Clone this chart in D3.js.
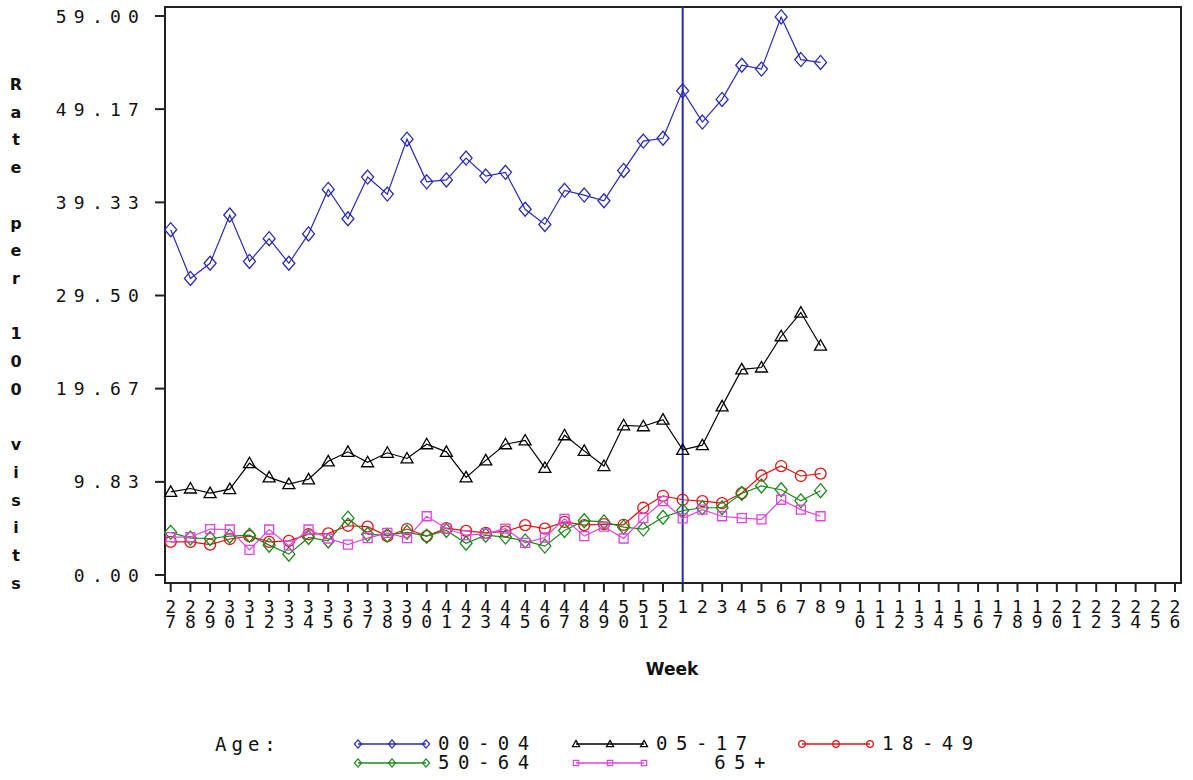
<!DOCTYPE html>
<html><head><meta charset="utf-8">
<script src="https://cdn.jsdelivr.net/npm/d3@7"></script>
<style>body{margin:0;background:#fff}svg{display:block}</style>
</head><body>
<svg id="c" width="1193" height="780"></svg>
<script>
const weekLabels = ["27","28","29","30","31","32","33","34","35","36","37","38","39","40","41","42","43","44","45","46","47","48","49","50","51","52","1","2","3","4","5","6","7","8","9","10","11","12","13","14","15","16","17","18","19","20","21","22","23","24","25","26"];
const yTicks = [0, 9.83, 19.67, 29.50, 39.33, 49.17, 59.00];
const refWeek = "1";
const age0004 = [36.45,31.3,32.9,38.0,33.1,35.5,32.9,36.0,40.7,37.6,42.0,40.2,46.0,41.5,41.7,44.0,42.1,42.5,38.6,37.0,40.6,40.1,39.5,42.7,45.8,46.1,51.1,47.8,50.2,53.8,53.4,58.9,54.4,54.1];
const age0517 = [8.78,9.13,8.64,9.06,11.8,10.3,9.59,10.1,12.0,13.0,11.9,12.9,12.3,13.8,13.0,10.3,12.1,13.8,14.2,11.3,14.75,13.1,11.5,15.8,15.7,16.4,13.2,13.7,17.8,21.7,21.9,25.2,27.7,24.2];
const age1849 = [3.5,3.5,3.2,3.8,4.1,3.5,3.6,4.3,4.4,5.2,5.1,4.1,4.85,4.1,4.95,4.65,4.45,4.6,5.27,4.9,5.6,5.27,5.37,5.3,7.1,8.36,7.94,7.8,7.58,8.65,10.5,11.5,10.45,10.7];
const age5064 = [4.5,3.9,3.85,4.1,4.2,3.15,2.2,3.96,3.6,6.0,4.3,4.2,4.5,4.1,4.7,3.35,4.2,4.0,3.6,3.05,4.7,5.73,5.6,5.05,4.85,6.1,6.8,7.1,7.1,8.6,9.4,9.0,7.83,8.9];
const age65p = [4.0,4.0,4.85,4.8,2.65,4.8,3.1,4.8,3.85,3.2,3.9,4.45,3.9,6.2,4.9,4.2,4.35,4.9,3.4,3.96,5.93,4.1,5.1,3.85,6.0,7.8,5.97,6.9,6.2,6.0,5.87,7.94,6.9,6.2];
const seriesNames = ["00-04","05-17","18-49","50-64","65+"];
const seriesColors = ["#2a2ab4","#000000","#e01414","#1c8a1c","#e044e0"];
const seriesShapes = ["diamond","triangle","circle","diamond","square"];
const seriesData = [age0004, age0517, age1849, age5064, age65p];

const svg = d3.select("#c");
const L = 165, R = 1181, T = 7, B = 583;
const x = d3.scalePoint().domain(weekLabels).range([170.7, 1175]);
const y = d3.scaleLinear().domain([0, 59]).range([575, 16]);
const mono = "'DejaVu Sans Mono', monospace";

function shapePath(s) {
  if (s === "diamond") return "M0,-7L6,0L0,7L-6,0Z";
  if (s === "triangle") return "M0,-6L6,4.5L-6,4.5Z";
  if (s === "square") return "M-4.5,-4.5H4.5V4.5H-4.5Z";
  return d3.symbol(d3.symbolCircle, 95)();
}

// frame
svg.append("rect").attr("x", L).attr("y", T).attr("width", R - L).attr("height", B - T)
  .attr("fill", "none").attr("stroke", "#222").attr("stroke-width", 2);

// y axis ticks + labels
const ya = svg.append("g");
yTicks.forEach(v => {
  ya.append("line").attr("x1", L - 10).attr("x2", L).attr("y1", y(v)).attr("y2", y(v))
    .attr("stroke", "#222").attr("stroke-width", 2);
  ya.append("text").attr("x", 146).attr("y", y(v) + 6.5).attr("text-anchor", "end")
    .attr("font-family", mono).attr("font-size", 18).attr("letter-spacing", 7.2)
    .attr("fill", "#111").text(d3.format(".2f")(v));
});

// x axis ticks + stacked labels
const xa = svg.append("g");
weekLabels.forEach(w => {
  const px = x(w);
  xa.append("line").attr("x1", px).attr("x2", px).attr("y1", B).attr("y2", B + 9)
    .attr("stroke", "#222").attr("stroke-width", 2);
  w.split("").forEach((ch, i) => {
    xa.append("text").attr("x", px).attr("y", 613 + i * 15).attr("text-anchor", "middle")
      .attr("font-family", mono).attr("font-size", 18).attr("fill", "#111").text(ch);
  });
});

// axis titles
svg.append("text").attr("x", 672).attr("y", 675).attr("text-anchor", "middle")
  .attr("font-family", "'DejaVu Sans', sans-serif").attr("font-weight", "bold")
  .attr("font-size", 17).attr("fill", "#111").text("Week");
const yTitle = "Rate per 100 visits";
yTitle.split("").forEach((ch, i) => {
  if (ch === " ") return;
  svg.append("text").attr("x", 16).attr("y", 90 + i * 27.7).attr("text-anchor", "middle")
    .attr("font-family", "'DejaVu Sans', sans-serif").attr("font-weight", "bold")
    .attr("font-size", 16).attr("fill", "#111").text(ch);
});

// reference line
svg.append("line").attr("x1", x(refWeek)).attr("x2", x(refWeek)).attr("y1", T).attr("y2", B)
  .attr("stroke", "#2a2ab4").attr("stroke-width", 2);

// series
const line = d3.line().x((d, i) => x(weekLabels[i])).y(d => y(d));
seriesData.forEach((data, si) => {
  const g = svg.append("g");
  g.append("path").attr("d", line(data)).attr("fill", "none")
    .attr("stroke", seriesColors[si]).attr("stroke-width", 1.2);
  g.selectAll("path.m").data(data).join("path").attr("class", "m")
    .attr("d", shapePath(seriesShapes[si]))
    .attr("transform", (d, i) => `translate(${x(weekLabels[i])},${y(d)})`)
    .attr("fill", "none").attr("stroke", seriesColors[si]).attr("stroke-width", 1.3);
});

// legend
const lg = svg.append("g");
lg.append("text").attr("x", 215).attr("y", 751).attr("font-family", mono).attr("font-size", 19)
  .attr("letter-spacing", 5).attr("fill", "#111").text("Age:");
const legPos = [[358, 744], [576, 744], [802, 744], [358, 763], [576, 763]];
seriesNames.forEach((nm, si) => {
  const [lx, ly] = legPos[si];
  lg.append("line").attr("x1", lx).attr("x2", lx + 68).attr("y1", ly).attr("y2", ly)
    .attr("stroke", seriesColors[si]).attr("stroke-width", 1.5);
  [0, 34, 68].forEach(o => {
    lg.append("path").attr("d", shapePath(seriesShapes[si]))
      .attr("transform", `translate(${lx + o},${ly}) scale(0.6)`)
      .attr("fill", "none").attr("stroke", seriesColors[si]).attr("stroke-width", 2);
  });
  const t = lg.append("text").attr("y", ly + 6).attr("font-family", mono).attr("font-size", 19)
    .attr("letter-spacing", 8.5).attr("fill", "#111").text(nm);
  if (nm === "65+") t.attr("x", 774).attr("text-anchor", "end");
  else t.attr("x", lx + 80);
});
</script>
</body></html>
